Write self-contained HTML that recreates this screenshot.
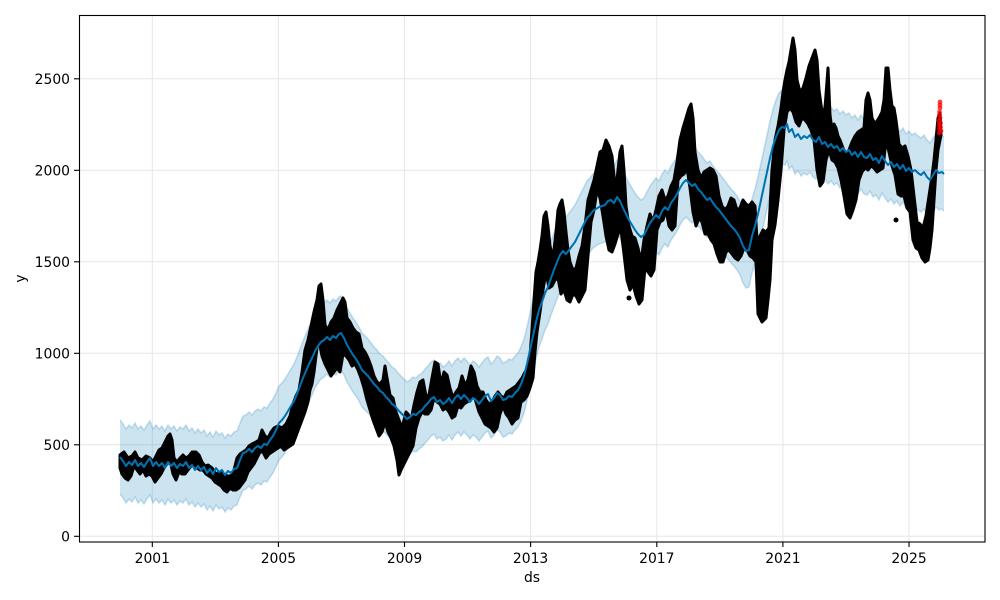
<!DOCTYPE html>
<html><head><meta charset="utf-8"><style>
html,body{margin:0;padding:0;background:#fff;}
svg{display:block;}
text{font-family:"DejaVu Sans","Liberation Sans",sans-serif;font-size:13.9px;fill:#000;}
</style></head><body>
<svg width="1000" height="600" viewBox="0 0 1000 600" xmlns="http://www.w3.org/2000/svg">
<defs>
<polyline id="yh" fill="none" points="120,457 123,461 126,466 129,462 132,465 135,460 138,466 141,463 144,467 147,462 150,458 153,466 156,462 159,466 162,463 165,468 168,462 171,466 174,463 177,468 180,464 183,466 186,462 189,468 192,465 195,470 198,466 201,470 204,467 207,473 210,469 213,474 216,468 219,472 222,470 225,475 228,471 231,473 234,469 237,468 240,460 243,453 246,452 249,449 252,452 255,448 258,446 261,448 264,444 267,445 270,440 273,436 276,430 279,423 282,420 285,416 288,411 291,406 294,401 297,394 300,386 303,378 306,371 309,364 312,358 315,351 318,346 321,342 324,340 327,337 330,340 333,336 336,338 339,334 341,333 344,338 347,345 350,350 353,355 356,359 359,364 362,370 365,373 368,376 371,380 374,384 377,387 380,391 383,393 386,397 389,400 392,404 395,406 398,410 401,413 404,416 407,419 410,417 413,414 416,415 419,412 422,410 425,406 428,403 431,399 434,397 437,402 440,400 443,404 446,402 449,398 452,403 455,398 458,395 461,399 464,395 467,398 470,402 473,398 476,400 479,404 482,400 485,396 488,394 491,401 494,398 497,393 500,395 503,400 506,399 509,396 512,397 515,393 518,390 521,384 524,376 527,364 530,350 533,336 536,322 539,310 542,302 545,293 548,287 551,278 554,270 557,262 560,255 563,251 566,254 569,250 572,246 575,242 578,236 581,230 584,224 587,218 590,215 593,211 596,209 599,207 602,206 605,205 608,201 611,200 614,203 617,197 620,201 623,208 626,214 629,220 632,225 635,230 638,234 641,237 644,235 647,229 650,223 653,219 656,215 659,218 662,211 665,207 668,210 671,203 674,199 677,194 680,188 683,183 686,180 689,183 692,186 695,184 698,189 701,192 704,196 707,200 710,198 713,203 716,207 719,210 722,214 725,218 728,222 731,226 734,229 737,233 740,238 743,246 746,251 749,250 752,236 755,226 758,214 761,200 764,186 767,172 770,158 773,146 776,137 779,130 782,127 785,128 787,124 789,132 792,129 795,137 798,134 801,139 804,136 807,138 810,135 813,140 816,142 819,137 822,144 825,142 828,147 831,144 834,148 837,146 840,151 843,148 846,152 849,150 852,155 855,152 858,157 861,152 864,157 867,158 870,154 873,160 876,158 879,163 882,156 885,161 888,165 891,162 894,167 897,164 900,169 903,165 906,171 909,168 912,172 915,170 918,173 921,175 924,172 927,177 930,180 933,175 936,170 939,173 942,172 944,174"/>
<polygon id="ar" points="120,700 120,457 123,461 126,466 129,462 132,465 135,460 138,466 141,463 144,467 147,462 150,458 153,466 156,462 159,466 162,463 165,468 168,462 171,466 174,463 177,468 180,464 183,466 186,462 189,468 192,465 195,470 198,466 201,470 204,467 207,473 210,469 213,474 216,468 219,472 222,470 225,475 228,471 231,473 234,469 237,468 240,460 243,453 246,452 249,449 252,452 255,448 258,446 261,448 264,444 267,445 270,440 273,436 276,430 279,423 282,420 285,416 288,411 291,406 294,401 297,394 300,386 303,378 306,371 309,364 312,358 315,351 318,346 321,342 324,340 327,337 330,340 333,336 336,338 339,334 341,333 344,338 347,345 350,350 353,355 356,359 359,364 362,370 365,373 368,376 371,380 374,384 377,387 380,391 383,393 386,397 389,400 392,404 395,406 398,410 401,413 404,416 407,419 410,417 413,414 416,415 419,412 422,410 425,406 428,403 431,399 434,397 437,402 440,400 443,404 446,402 449,398 452,403 455,398 458,395 461,399 464,395 467,398 470,402 473,398 476,400 479,404 482,400 485,396 488,394 491,401 494,398 497,393 500,395 503,400 506,399 509,396 512,397 515,393 518,390 521,384 524,376 527,364 530,350 533,336 536,322 539,310 542,302 545,293 548,287 551,278 554,270 557,262 560,255 563,251 566,254 569,250 572,246 575,242 578,236 581,230 584,224 587,218 590,215 593,211 596,209 599,207 602,206 605,205 608,201 611,200 614,203 617,197 620,201 623,208 626,214 629,220 632,225 635,230 638,234 641,237 644,235 647,229 650,223 653,219 656,215 659,218 662,211 665,207 668,210 671,203 674,199 677,194 680,188 683,183 686,180 689,183 692,186 695,184 698,189 701,192 704,196 707,200 710,198 713,203 716,207 719,210 722,214 725,218 728,222 731,226 734,229 737,233 740,238 743,246 746,251 749,250 752,236 755,226 758,214 761,200 764,186 767,172 770,158 773,146 776,137 779,130 782,127 785,128 787,124 789,132 792,129 795,137 798,134 801,139 804,136 807,138 810,135 813,140 816,142 819,137 822,144 825,142 828,147 831,144 834,148 837,146 840,151 843,148 846,152 849,150 852,155 855,152 858,157 861,152 864,157 867,158 870,154 873,160 876,158 879,163 882,156 885,161 888,165 891,162 894,167 897,164 900,169 903,165 906,171 909,168 912,172 915,170 918,173 921,175 924,172 927,177 930,180 933,175 936,170 939,173 942,172 944,174 944,700"/>
<mask id="bandmask" maskUnits="userSpaceOnUse" x="0" y="0" width="1000" height="600">
<use href="#ar" transform="translate(0,-37)" fill="#fff"/>
<use href="#ar" transform="translate(0,37)" fill="#000"/>
</mask>
</defs>

<rect x="0" y="0" width="1000" height="600" fill="#fff"/>

<!-- grid -->
<g stroke="#e6e6e6" stroke-width="1">
<line x1="152.3" y1="15" x2="152.3" y2="542"/>
<line x1="278.4" y1="15" x2="278.4" y2="542"/>
<line x1="404.5" y1="15" x2="404.5" y2="542"/>
<line x1="530.6" y1="15" x2="530.6" y2="542"/>
<line x1="656.8" y1="15" x2="656.8" y2="542"/>
<line x1="782.9" y1="15" x2="782.9" y2="542"/>
<line x1="909" y1="15" x2="909" y2="542"/>
<line x1="79" y1="536.3" x2="985" y2="536.3"/>
<line x1="79" y1="444.8" x2="985" y2="444.8"/>
<line x1="79" y1="353.3" x2="985" y2="353.3"/>
<line x1="79" y1="261.8" x2="985" y2="261.8"/>
<line x1="79" y1="170.3" x2="985" y2="170.3"/>
<line x1="79" y1="78.8" x2="985" y2="78.8"/>
</g>

<!-- uncertainty band -->
<rect x="0" y="0" width="1000" height="600" fill="#0072B2" fill-opacity="0.2" mask="url(#bandmask)"/>
<use href="#yh" transform="translate(0,-37)" stroke="#0072B2" stroke-opacity="0.2" stroke-width="1.6"/>
<use href="#yh" transform="translate(0,37)" stroke="#0072B2" stroke-opacity="0.2" stroke-width="1.6"/>

<!-- observed data -->
<polygon fill="#000" stroke="#000" stroke-width="3" stroke-linejoin="round" points="120,455 124,452 128,458 132,456 135,452 138,458 142,460 146,456 150,458 153,462 156,456 159,450 162,448 165,442 168,436 170,434 172,440 174,458 177,462 180,458 183,455 186,458 189,456 192,452 196,452 199,455 202,462 205,466 208,465 212,468 216,474 220,472 224,475 228,476 231,476 234,470 237,458 240,454 243,452 246,450 249,446 252,444 256,442 259,440 262,430 265,436 268,438 271,432 274,428 278,426 282,428 286,424 290,416 293,404 296,396 299,390 302,372 305,350 308,340 311,326 314,312 317,300 319,286 321,284 323,300 325,325 328,330 331,322 334,318 337,310 340,304 343,298 345,302 347,318 350,322 353,328 356,332 359,334 362,348 365,352 368,358 371,366 374,376 377,382 380,384 383,380 385,366 387,378 390,395 393,398 396,412 399,420 402,428 404,420 406,412 408,414 411,420 414,405 417,392 420,382 423,380 426,396 429,395 432,378 435,362 438,364 441,385 444,372 447,375 450,388 453,398 456,392 459,388 462,376 465,385 468,380 471,366 474,372 477,386 480,392 483,392 486,400 489,404 492,402 495,396 498,392 501,396 504,398 507,392 510,390 513,388 516,386 519,382 522,378 525,372 528,368 530,356 532,330 534,300 536,272 538,262 540,250 542,236 544,216 546,212 548,226 550,246 552,254 554,250 556,232 558,210 560,204 562,200 564,212 566,232 568,250 570,262 573,270 576,268 579,256 582,246 585,226 588,200 591,190 594,180 597,166 600,152 603,150 606,140 609,146 612,156 614,176 616,190 618,170 620,152 622,146 624,170 626,206 629,226 632,236 635,238 638,248 641,262 644,240 647,226 650,214 653,222 656,210 659,196 662,190 665,200 668,196 671,186 674,180 677,162 680,140 683,128 686,118 689,108 691,104 693,118 695,152 698,170 701,178 704,172 707,170 710,168 713,170 716,176 719,196 722,206 725,210 728,206 731,198 734,200 737,210 740,208 743,200 746,204 749,206 752,202 755,206 757,240 760,236 763,230 766,232 769,228 772,170 775,140 778,126 781,108 783,92 785,80 787,70 789,62 791,50 793,38 795,50 797,80 800,92 803,88 806,78 809,66 812,58 815,50 817,60 819,90 822,112 825,108 828,68 830,115 832,130 834,124 836,128 838,136 840,140 843,148 846,154 849,150 852,142 855,136 858,132 861,130 864,128 866,100 868,93 870,100 872,118 875,124 879,118 882,112 884,100 886,68 888,68 890,90 892,106 894,108 896,120 899,144 902,148 905,146 908,156 911,170 914,196 917,222 920,224 923,228 926,216 929,196 932,176 934,160 936,140 938,118 940,113 941,135 938,150 936,170 934,200 932,230 930,248 928,260 925,262 922,258 919,250 916,248 913,240 910,212 907,208 904,196 901,196 898,194 895,175 892,166 889,152 886,140 883,168 880,170 877,172 874,168 871,166 868,170 865,168 862,172 859,180 856,200 853,210 850,218 847,214 844,196 841,180 838,168 835,162 832,160 829,150 826,160 823,182 820,186 817,170 814,140 811,130 808,124 805,120 802,118 799,126 796,122 793,112 790,108 787,112 784,130 781,170 778,200 775,225 772,240 770,280 768,300 766,318 764,320 762,322 760,318 758,314 756,262 753,258 750,256 747,250 744,248 741,256 738,260 735,258 732,254 729,250 726,252 723,262 720,262 717,254 714,244 711,240 708,234 705,234 702,222 699,218 696,226 693,212 690,188 687,168 684,174 681,176 678,180 675,226 672,230 669,226 666,210 663,220 660,222 657,230 654,270 651,276 648,272 645,268 642,300 639,304 636,296 633,284 630,290 627,280 624,254 621,230 618,234 615,244 612,252 609,250 606,236 603,216 600,198 597,190 594,210 591,222 588,256 585,290 582,296 579,302 576,296 573,294 570,302 567,300 564,290 561,294 558,278 555,280 552,286 549,288 546,272 543,290 540,312 537,332 535,352 533,378 530,388 527,396 524,400 521,402 518,418 515,420 512,424 509,418 506,414 503,406 500,414 497,428 494,432 491,428 488,426 485,424 482,418 479,412 476,402 473,392 470,400 467,402 464,404 461,408 458,406 455,416 452,418 449,412 446,408 443,410 440,404 437,402 434,398 431,410 428,414 425,414 422,412 419,418 416,428 413,446 410,452 407,458 404,464 401,470 399,475 397,460 394,446 391,438 388,432 385,422 382,432 379,436 376,428 373,420 370,410 367,400 364,388 361,378 358,370 355,364 352,366 349,360 346,356 343,354 340,372 337,368 334,372 331,376 328,370 325,364 322,356 320,346 318,340 316,356 314,372 312,384 310,390 308,402 305,412 302,420 299,428 296,436 293,444 290,446 287,448 284,450 281,446 278,448 275,450 272,452 269,454 266,458 263,452 260,452 257,458 254,464 251,468 248,472 245,480 242,484 239,488 236,490 233,490 230,488 227,492 224,490 221,486 218,484 215,482 212,478 209,476 206,474 203,470 200,470 197,468 194,464 191,466 188,470 185,474 182,474 179,472 176,480 173,474 170,460 167,464 164,468 161,474 158,478 155,482 152,476 149,474 146,476 143,470 140,474 137,470 134,466 131,476 128,480 125,478 122,474 120,468"/>
<circle cx="629" cy="298" r="2.5" fill="#000"/>
<circle cx="896" cy="220" r="2.5" fill="#000"/>

<!-- forecast line -->
<use href="#yh" stroke="#0072B2" stroke-width="2" stroke-linejoin="round"/>

<!-- red recent points -->
<g fill="#ff0000" fill-opacity="0.75">
<circle cx="940" cy="102" r="2.4"/>
<circle cx="940" cy="105" r="2.4"/>
<circle cx="940" cy="108" r="2.4"/>
<circle cx="939.5" cy="112" r="2.4"/>
<circle cx="939.5" cy="115" r="2.4"/>
<circle cx="940" cy="118" r="2.4"/>
<circle cx="939" cy="121" r="2.4"/>
<circle cx="940.5" cy="123" r="2.4"/>
<circle cx="939" cy="125" r="2.4"/>
<circle cx="940.5" cy="127" r="2.4"/>
<circle cx="939.5" cy="129" r="2.4"/>
<circle cx="941" cy="131" r="2.4"/>
<circle cx="939.5" cy="133" r="2.4"/>
</g>

<!-- spines -->
<rect x="79.5" y="15.5" width="905.5" height="526.5" fill="none" stroke="#000" stroke-width="1.1"/>

<!-- ticks -->
<g stroke="#000" stroke-width="1.1">
<line x1="74" y1="536.3" x2="79.5" y2="536.3"/>
<line x1="74" y1="444.8" x2="79.5" y2="444.8"/>
<line x1="74" y1="353.3" x2="79.5" y2="353.3"/>
<line x1="74" y1="261.8" x2="79.5" y2="261.8"/>
<line x1="74" y1="170.3" x2="79.5" y2="170.3"/>
<line x1="74" y1="78.8" x2="79.5" y2="78.8"/>
<line x1="152.3" y1="542" x2="152.3" y2="547"/>
<line x1="278.4" y1="542" x2="278.4" y2="547"/>
<line x1="404.5" y1="542" x2="404.5" y2="547"/>
<line x1="530.6" y1="542" x2="530.6" y2="547"/>
<line x1="656.8" y1="542" x2="656.8" y2="547"/>
<line x1="782.9" y1="542" x2="782.9" y2="547"/>
<line x1="909" y1="542" x2="909" y2="547"/>
</g>

<g text-anchor="end">
<text x="70" y="541.3">0</text>
<text x="70" y="449.8">500</text>
<text x="70" y="358.3">1000</text>
<text x="70" y="266.8">1500</text>
<text x="70" y="175.3">2000</text>
<text x="70" y="83.8">2500</text>
</g>
<g text-anchor="middle">
<text x="152.3" y="563">2001</text>
<text x="278.4" y="563">2005</text>
<text x="404.5" y="563">2009</text>
<text x="530.6" y="563">2013</text>
<text x="656.8" y="563">2017</text>
<text x="782.9" y="563">2021</text>
<text x="909" y="563">2025</text>
<text x="532" y="582">ds</text>
<text x="0" y="0" transform="translate(25,278.5) rotate(-90)">y</text>
</g>
</svg>
</body></html>
